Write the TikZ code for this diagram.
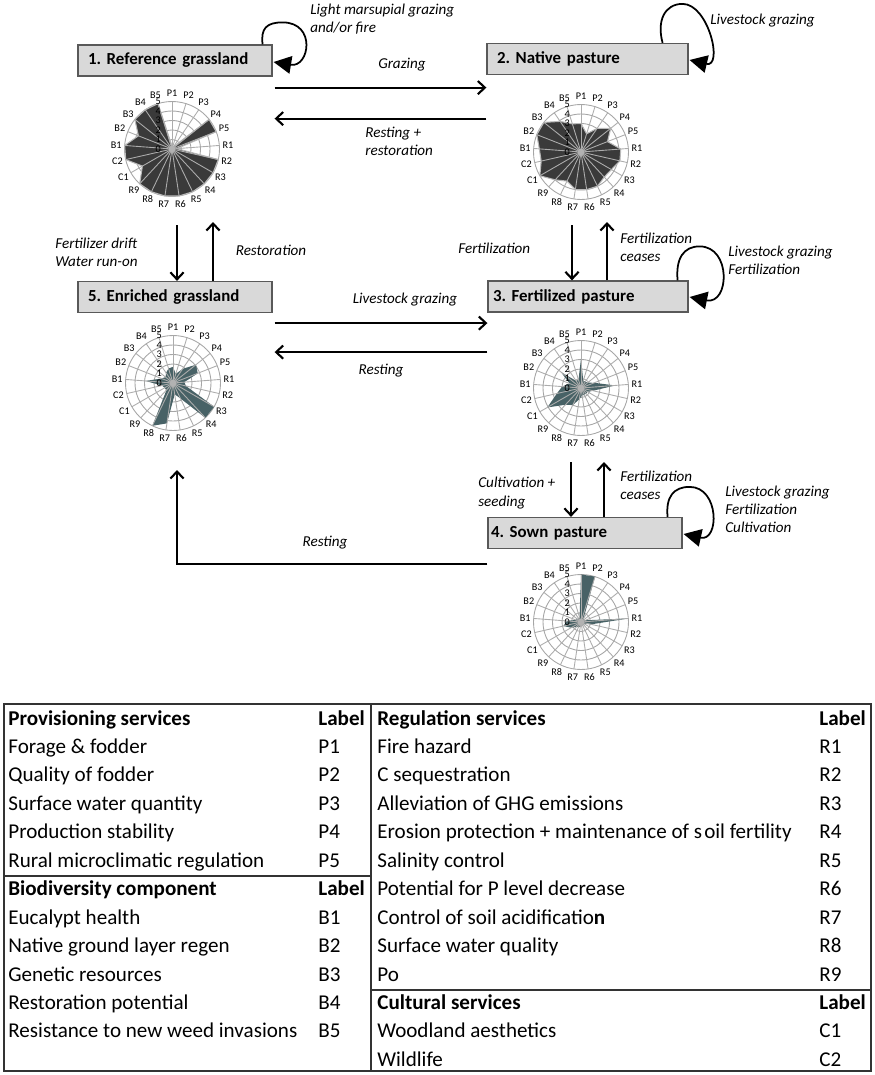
\documentclass[tikz,border=0pt]{standalone}
\usepackage{fontspec}
\setmainfont{Carlito}
\usetikzlibrary{arrows.meta,calc}

\definecolor{radardark}{RGB}{58,58,58}
\definecolor{radarteal}{RGB}{72,98,102}
\definecolor{boxgray}{RGB}{217,217,217}

% radar chart: #1 name, #2 centre, #3 values P1..B5, #4 fill style
\newcommand{\radarchart}[4]{%
  \begin{scope}[shift={#2}, x=0.19cm, y=-0.19cm]
    \foreach \ringno in {1,...,5} \draw[ring] (0,0) circle (\ringno);
    \foreach \val [count=\idx from 0] in {#3}
      \coordinate (#1-\idx) at ({-90+\idx*360/21}:\val);
    \fill[#4] (#1-0) \foreach \idx in {1,...,20} {-- (#1-\idx)} -- cycle;
    \foreach \lab [count=\idx from 0] in {P1,P2,P3,P4,P5,R1,R2,R3,R4,R5,R6,R7,R8,R9,C1,C2,B1,B2,B3,B4,B5} {
      \draw[spoke] (0,0) -- ({-90+\idx*360/21}:5);
      \node[axislabel] at ({-90+\idx*360/21}:5.9) {\lab};
    }
    \fill[gray!60] (0,0) circle (0.35);
    \foreach \tick in {0,...,5} \node[axislabel] at (-1.45,-\tick) {\tick};
  \end{scope}}

\begin{document}
\frenchspacing
\begin{tikzpicture}[x=0.02cm, y=-0.02cm,
    statebox/.style={draw=black!65, fill=boxgray, line width=0.7pt, inner ysep=0pt,
      minimum height=0.62cm, align=left, font=\fontsize{9.6}{11}\selectfont\bfseries},
    flow/.style={line width=1.2pt, -{Straight Barb[length=4pt,width=7.5pt]}},
    selfloop/.style={line width=1pt, -{Triangle[length=10pt,width=10pt]}},
    note/.style={font=\fontsize{8.6}{10.3}\selectfont\itshape, align=left, inner sep=0pt},
    ring/.style={gray!70, line width=0.5pt},
    spoke/.style={gray!65, line width=0.5pt},
    axislabel/.style={font=\fontsize{5.8}{6}\selectfont, inner sep=0pt},
    tabline/.style={black!80, line width=0.7pt},
    tabtext/.style={font=\fontsize{12}{14}\selectfont, anchor=base west, inner sep=0pt}]

    \useasboundingbox (0,0) rectangle (875,1075);

    % States
    \node[statebox, text width=3.48cm, inner xsep=0.2cm] (ref) at (175,60.5) {1. Reference grassland};
    \node[statebox, text width=3.62cm, inner xsep=0.2cm] (native) at (587.5,59) {2. Native pasture};
    \node[statebox, text width=3.8cm, inner xsep=0.1cm] (fert) at (588,296.5) {3. Fertilized pasture};
    \node[statebox, text width=3.76cm, inner xsep=0.06cm] (sown) at (585,533) {4. Sown pasture};
    \node[statebox, text width=3.48cm, inner xsep=0.2cm] (enr) at (175,297) {5. Enriched grassland};

    % Radar charts
    \radarchart{refchart}{(172,149)}{0.3,0.3,0.3,5,5,0.5,5,5,5,5,5,5,5,5,3.6,5,5,3.8,5,5,5}{radardark, draw=gray!55, line width=0.6pt}
    \radarchart{natchart}{(581,152)}{3,2,3,4,3,4.2,4.2,3.7,3.6,4,4,4,3.4,4,5,4.3,4.4,5,5,3.9,3.1}{radardark, draw=gray!55, line width=0.6pt}
    \radarchart{enrchart}{(173,383)}{1.7,1,1.8,3.1,2.8,1.2,1.4,5,5,1.8,1.2,4.3,5,1,1,1.2,2.9,1.3,1,1.3,1.6}{radarteal}
    \radarchart{fertchart}{(581,388)}{3.1,0.8,0.8,0.9,1.5,3.6,1.3,0.8,0.8,0.8,0.8,1.2,2,2.4,4.1,2.6,2,1.3,2.7,0.9,0.9}{radarteal}
    \radarchart{sownchart}{(581,622)}{5,5,0.5,0.4,0.5,5,1.1,0.4,0.4,0.4,0.4,0.5,0.6,0.7,1.2,1.9,1.5,0.6,0.5,0.5,0.5}{radarteal}

    % Self loops
    \draw[selfloop] ($(ref.north east)+(-10,0)$) .. controls +(-2,-16) and +(-16,0) .. ($(ref.north east)+(10,-22)$)
        .. controls +(34,0) and +(36,6) .. ($(ref.east)+(1,1.5)$);
    \draw[selfloop] ($(native.north east)+(-26,0)$) .. controls +(-6,-22) and +(-18,0) .. ($(native.north east)+(-6,-39)$)
        .. controls +(26,0) and +(34,8) .. ($(native.east)+(1,1)$);
    \draw[selfloop] ($(fert.north east)+(-11,0)$) .. controls +(-2,-22) and +(-16,0) .. ($(fert.north east)+(11,-34)$)
        .. controls +(32,0) and +(40,8) .. ($(fert.east)+(1,0.5)$);
    \draw[selfloop] ($(sown.north east)+(-15,0)$) .. controls +(-2,-20) and +(-16,0) .. ($(sown.north east)+(7,-30)$)
        .. controls +(30,0) and +(36,8) .. ($(sown.east)+(1,1)$);

    % Transitions
    \coordinate (graze) at ($(ref.south east)+(2,11)$);
    \draw[flow] (graze) -- (graze -| native.west);
    \coordinate (restore) at ($(ref.south east)+(2,42)$);
    \draw[flow] (restore -| native.west) -- (restore);

    \coordinate (drift) at (177,225);
    \draw[flow] (drift) -- (drift |- enr.north);
    \coordinate (restore2) at (213,222);
    \draw[flow] (restore2 |- enr.north) -- (restore2);

    \coordinate (fertil) at (572,225);
    \draw[flow] (fertil) -- (fertil |- fert.north);
    \coordinate (cease) at (607,222);
    \draw[flow] (cease |- fert.north) -- (cease);

    \coordinate (seed) at (571,462);
    \draw[flow] (seed) -- (seed |- sown.north);
    \coordinate (cease2) at (604,462);
    \draw[flow] (cease2 |- sown.north) -- (cease2);

    \coordinate (lgraze) at ($(enr.south east)+(2,10)$);
    \draw[flow] (lgraze) -- (lgraze -| fert.west);
    \coordinate (rest) at ($(enr.south east)+(2,39)$);
    \draw[flow] (rest -| fert.west) -- (rest);

    \coordinate (sownrest) at ($(sown.south west)+(0,15)$);
    \coordinate (enrin) at (177,470);
    \draw[flow] (sownrest) -| (enrin);

    % Transition labels
    \node[note, anchor=west] (lmg) at (310,19) {Light marsupial grazing\\and/or fire};
    \node[note, anchor=west] (lg1) at (710,21) {Livestock grazing};
    \node[note] (gr) at (402,65) {Grazing};
    \node[note, anchor=west] (rr) at (365,141) {Resting +\\restoration};
    \node[note, anchor=west] (fd) at (55,252) {Fertilizer drift\\Water run-on};
    \node[note] (rs) at (271,250) {Restoration};
    \node[note, anchor=west] (fz) at (458,248) {Fertilization};
    \node[note, anchor=west] (fc1) at (620,247) {Fertilization\\ceases};
    \node[note, anchor=west] (lg3) at (728,260) {Livestock grazing\\Fertilization};
    \node[note] (lg5) at (405,300) {Livestock grazing};
    \node[note] (rt1) at (381,371) {Resting};
    \node[note, anchor=west] (cs) at (478,493) {Cultivation +\\seeding};
    \node[note, anchor=west] (fc2) at (620,485) {Fertilization\\ceases};
    \node[note, anchor=west] (lg4) at (725,509) {Livestock grazing\\Fertilization\\Cultivation};
    \node[note] (rt2) at (325,543) {Resting};

    % Table of services
    \draw[tabline] (4,704) rectangle (871,1071);
    \draw[tabline] (371,704) -- (371,1071);
    \draw[tabline] (4,876) -- (371,876);
    \draw[tabline] (371,990) -- (871,990);
    \foreach \txt/\lab [count=\row from 0] in {{\textbf{Provisioning services}}/{\textbf{Label}},
        Forage \& fodder/P1, Quality of fodder/P2, Surface water quantity/P3,
        Production stability/P4, Rural microclimatic regulation/P5,
        {\textbf{Biodiversity component}}/{\textbf{Label}},
        Eucalypt health/B1, Native ground layer regen/B2, Genetic resources/B3,
        Restoration potential/B4, Resistance to new weed invasions/B5} {
        \node[tabtext] at (8,{725+28.45*\row}) {\txt};
        \node[tabtext] at (318,{725+28.45*\row}) {\lab};
    }
    \foreach \txt/\lab [count=\row from 0] in {{\textbf{Regulation services}}/{\textbf{Label}},
        Fire hazard/R1, C sequestration/R2, Alleviation of GHG emissions/R3,
        {Erosion protection + maintenance of s\hspace{0.1em}oil fertility}/R4, Salinity control/R5,
        Potential for P level decrease/R6, {Control of soil acidificatio\textbf{n}}/R7,
        Surface water quality/R8, Po/R9,
        {\textbf{Cultural services}}/{\textbf{Label}},
        Woodland aesthetics/C1, Wildlife/C2} {
        \node[tabtext] at (377,{725+28.45*\row}) {\txt};
        \node[tabtext] at (819,{725+28.45*\row}) {\lab};
    }
\end{tikzpicture}
\end{document}
